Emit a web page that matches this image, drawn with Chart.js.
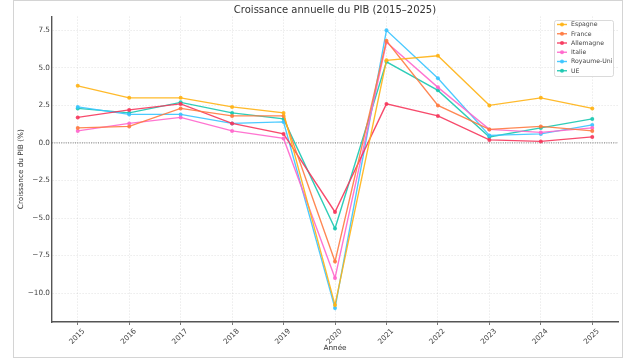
<!DOCTYPE html>
<html lang="fr">
  <head>
    <meta charset="UTF-8" />
    <title>Croissance annuelle du PIB</title>
    <script src="https://cdn.jsdelivr.net/npm/chart.js@4.4.1/dist/chart.umd.min.js"></script>
    <style>
      body { margin: 0; background: #fff; }
    </style>
  </head>
  <body>
    <canvas id="pib" width="636" height="358"></canvas>

    <script>
      // données
      const years = ['2015', '2016', '2017', '2018', '2019', '2020', '2021', '2022', '2023', '2024', '2025'];
      const espagne    = [3.8, 3.0, 3.0, 2.4, 2.0, -10.8, 5.5, 5.8, 2.5, 3.0, 2.3];
      const france     = [1.0, 1.1, 2.3, 1.8, 1.8, -7.9, 6.8, 2.5, 0.9, 1.1, 0.8];
      const allemagne  = [1.7, 2.2, 2.6, 1.3, 0.6, -4.6, 2.6, 1.8, 0.2, 0.1, 0.4];
      const italie     = [0.8, 1.3, 1.7, 0.8, 0.3, -9.0, 6.7, 3.7, 0.9, 0.7, 1.0];
      const royaumeUni = [2.4, 1.9, 1.9, 1.3, 1.4, -11.0, 7.5, 4.3, 0.5, 0.6, 1.2];
      const ue         = [2.3, 2.0, 2.7, 2.0, 1.6, -5.7, 5.4, 3.5, 0.4, 1.0, 1.6];
      const yTicks = [-10, -7.5, -5, -2.5, 0, 2.5, 5, 7.5];

      Chart.defaults.font.family = '"DejaVu Sans", sans-serif';
      Chart.defaults.color = '#444';

      function serie(label, data, color) {
        return {
          label, data,
          borderColor: color,
          backgroundColor: color,
          pointBackgroundColor: color,
          borderWidth: 1.4,
          pointRadius: 2,
          pointBorderWidth: 0,
          pointHoverRadius: 2,
          tension: 0
        };
      }

      // cadre gris autour de la figure
      const frame = {
        id: 'frame',
        beforeDraw(chart) {
          const ctx = chart.ctx;
          ctx.save();
          ctx.strokeStyle = '#d4d4d4';
          ctx.lineWidth = 1;
          ctx.strokeRect(13.5, 0.5, 609, 357);
          ctx.restore();
        }
      };

      // ligne pointillée à zéro
      const zeroLine = {
        id: 'zeroLine',
        beforeDatasetsDraw(chart) {
          const {ctx, chartArea} = chart;
          const y = chart.scales.y.getPixelForValue(0);
          ctx.save();
          ctx.strokeStyle = '#777';
          ctx.lineWidth = 1;
          ctx.setLineDash([1, 1.3]);
          ctx.beginPath();
          ctx.moveTo(chartArea.left, y);
          ctx.lineTo(chartArea.right, y);
          ctx.stroke();
          ctx.restore();
        }
      };

      // légende en haut à droite, dans la zone du graphique
      const innerLegend = {
        id: 'innerLegend',
        afterDraw(chart) {
          const ctx = chart.ctx;
          const x0 = 554, y0 = 20, w = 59, h = 56, step = 9.25;
          ctx.save();
          ctx.fillStyle = 'rgba(255,255,255,0.85)';
          ctx.strokeStyle = '#d0d0d0';
          ctx.lineWidth = 0.8;
          ctx.beginPath();
          ctx.roundRect(x0 + 0.5, y0 + 0.5, w, h, 2);
          ctx.fill();
          ctx.stroke();
          ctx.font = '6.2px "DejaVu Sans"';
          ctx.textBaseline = 'middle';
          chart.data.datasets.forEach((ds, i) => {
            const y = y0 + 4.5 + i * step;
            ctx.strokeStyle = ds.borderColor;
            ctx.lineWidth = 1.4;
            ctx.beginPath();
            ctx.moveTo(x0 + 3, y);
            ctx.lineTo(x0 + 13, y);
            ctx.stroke();
            ctx.fillStyle = ds.borderColor;
            ctx.beginPath();
            ctx.arc(x0 + 8, y, 2, 0, Math.PI * 2);
            ctx.fill();
            ctx.fillStyle = '#444';
            ctx.fillText(ds.label, x0 + 17, y + 0.3);
          });
          ctx.restore();
        }
      };

      const ctx = document.getElementById('pib').getContext('2d');
      new Chart(ctx, {
        type: 'line',
        data: {
          labels: years,
          datasets: [
            serie('Espagne', espagne, 'rgba(255, 178, 20, 0.9)'),
            serie('France', france, 'rgba(255, 122, 64, 0.9)'),
            serie('Allemagne', allemagne, 'rgba(246, 55, 92, 0.9)'),
            serie('Italie', italie, 'rgba(255, 102, 204, 0.9)'),
            serie('Royaume-Uni', royaumeUni, 'rgba(56, 196, 255, 0.9)'),
            serie('UE', ue, 'rgba(24, 200, 176, 0.9)')
          ]
        },
        plugins: [frame, zeroLine, innerLegend],
        options: {
          responsive: false,
          animation: false,
          layout: { padding: { left: 0, right: 18, top: 0, bottom: 0 } },
          plugins: {
            legend: { display: false },
            tooltip: { enabled: false },
            title: {
              display: true,
              fullSize: false,
              text: 'Croissance annuelle du PIB (2015–2025)',
              color: '#333',
              font: { size: 10, weight: 'normal' },
              padding: { top: 4.2, bottom: 0.2 }
            }
          },
          scales: {
            x: {
              type: 'category',
              offset: true,
              afterFit: s => { s.height = 36; },
              grid: {
                offset: false,
                color: 'rgba(0,0,0,0.08)',
                drawTicks: true,
                tickLength: 3,
                tickColor: '#555',
                tickWidth: 0.8
              },
              border: { display: true, color: '#555', width: 1.4, dash: [1.5, 1.5] },
              ticks: {
                minRotation: 45,
                maxRotation: 45,
                labelOffset: 6,
                padding: 2,
                color: '#444',
                font: { size: 7.3 }
              },
              title: {
                display: true,
                text: 'Année',
                color: '#333',
                font: { size: 7.3 },
                padding: { top: 0, bottom: 5.6 }
              }
            },
            y: {
              type: 'linear',
              min: -11.925,
              max: 8.425,
              afterFit: s => { s.width = 52; },
              afterBuildTicks: s => { s.ticks = yTicks.map(v => ({ value: v })); },
              grid: {
                color: 'rgba(0,0,0,0.08)',
                drawTicks: false
              },
              border: { display: true, color: '#555', width: 1.4, dash: [1.5, 1.5] },
              ticks: {
                padding: 2,
                color: '#444',
                font: { size: 7.3 },
                callback: v => v.toFixed(1).replace('-', '\u2212')
              },
              title: {
                display: true,
                text: 'Croissance du PIB (%)',
                color: '#333',
                font: { size: 7.3 },
                padding: { top: 16.6, bottom: 0 }
              }
            }
          }
        }
      });
    </script>
  </body>
</html>
